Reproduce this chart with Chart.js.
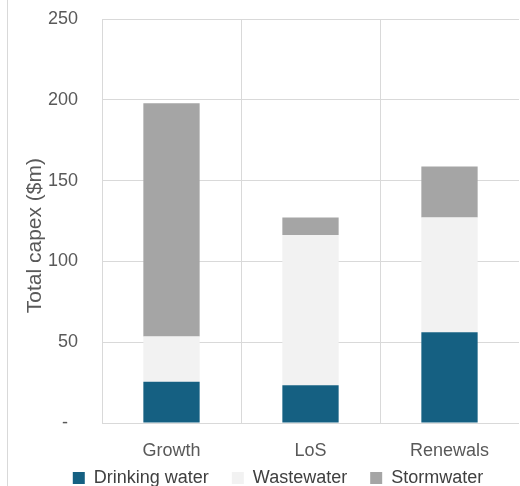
<!DOCTYPE html>
<html>
<head>
<meta charset="utf-8">
<script src="https://cdn.jsdelivr.net/npm/chart.js"></script>
<style>
  html, body { margin: 0; padding: 0; background: #fff; overflow: hidden; }
  #wrap { position: relative; width: 520px; height: 486px; overflow: hidden; }
  #frame { position: absolute; left: 7px; top: 0; width: 1px; height: 486px; background: #d9d9d9; }
  canvas { position: absolute; left: 0; top: 0; }
</style>
</head>
<body>
<div id="wrap">
  <canvas id="myChart" width="556" height="497" style="width:556px;height:497px"></canvas>
  <div id="frame"></div>
</div>
<script>
// chart data
const categories = ["Growth", "LoS", "Renewals"];
const drinkingWater = [25.6, 23.3, 56.2];
const wastewater = [27.9, 93.1, 71.0];
const stormwater = [144.4, 10.8, 31.6];
const yTicks = [0, 50, 100, 150, 200, 250];

const font = "'Liberation Sans', Arial, sans-serif";
const gridColor = "#d9d9d9";

const ctx = document.getElementById("myChart");
const myChart = new Chart(ctx, {
  type: "bar",
  data: {
    labels: categories,
    datasets: [
      { label: "Drinking water", data: drinkingWater, backgroundColor: "#156082" },
      { label: "Wastewater", data: wastewater, backgroundColor: "#f2f2f2" },
      { label: "Stormwater", data: stormwater, backgroundColor: "#a5a5a5" }
    ]
  },
  options: {
    responsive: false,
    animation: false,
    layout: { padding: { top: 19, left: 0, right: 0, bottom: 0 } },
    datasets: {
      bar: { categoryPercentage: 0.405, barPercentage: 1 }
    },
    plugins: {
      tooltip: { enabled: false },
      legend: {
        position: "bottom",
        labels: {
          font: { family: font, size: 18 },
          color: "#404040",
          boxWidth: 12,
          boxHeight: 12,
          padding: 8,
          // a bit of extra room between the items
          generateLabels: (chart) =>
            Chart.defaults.plugins.legend.labels.generateLabels(chart).map((item, i, all) => {
              if (i < all.length - 1) item.text += "   ";
              return item;
            })
        }
      }
    },
    scales: {
      x: {
        stacked: true,
        grid: {
          offset: true,
          drawTicks: false,
          color: (c) => (c.type === "tick" ? gridColor : "rgba(0,0,0,0)")
        },
        border: { display: false },
        ticks: { font: { family: font, size: 18 }, color: "#595959", padding: 17 },
        afterFit: (s) => { s.height = 38; }
      },
      y: {
        stacked: true,
        min: 0,
        max: 250,
        afterBuildTicks: (s) => { s.ticks = yTicks.map(v => ({ value: v })); },
        grid: { color: gridColor, drawTicks: false },
        border: { display: false },
        ticks: {
          font: { family: font, size: 18 },
          color: "#595959",
          padding: 24,
          callback: (v) => (v === 0 ? "-  " : v)
        },
        title: {
          display: true,
          text: "Total capex ($m)     ",
          font: { family: font, size: 21 },
          color: "#595959",
          padding: { top: 23, bottom: 0 }
        },
        afterFit: (s) => {
          s.width = 102;
          s.paddingTop = 0;
          s.paddingBottom = 0;
        }
      },
      y2: {
        position: "right",
        grid: { display: false },
        border: { display: false },
        ticks: { display: false },
        afterFit: (s) => { s.width = 37; }
      }
    }
  }
});
</script>
</body>
</html>
